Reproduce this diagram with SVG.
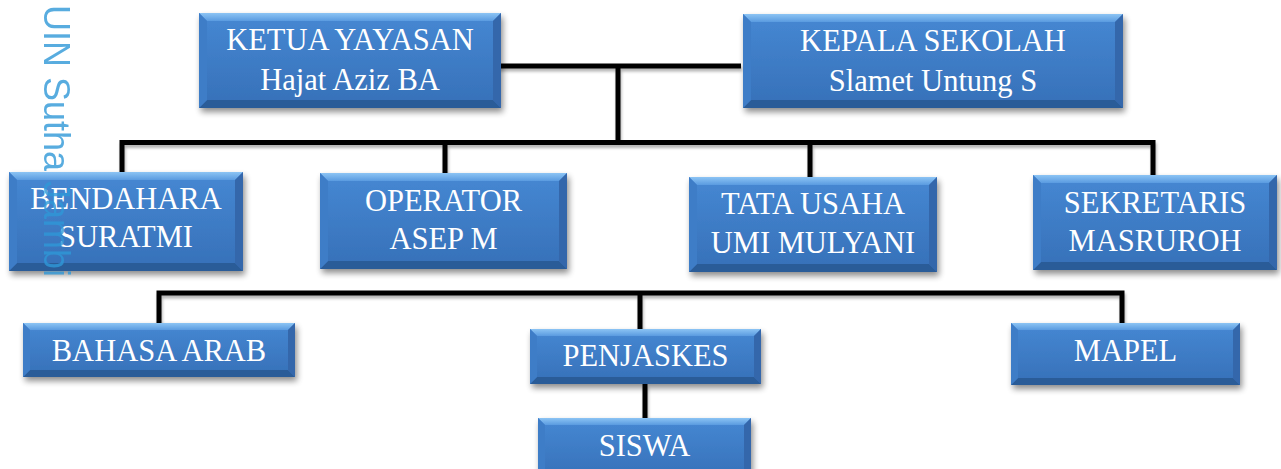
<svg xmlns="http://www.w3.org/2000/svg" width="1281" height="469" viewBox="0 0 1281 469">
<defs>
<linearGradient id="gFace" x1="0" y1="0" x2="0" y2="1">
<stop offset="0" stop-color="#4688d3"/>
<stop offset="1" stop-color="#3670b8"/>
</linearGradient>
<linearGradient id="gTop" x1="0" y1="0" x2="0" y2="1">
<stop offset="0" stop-color="#8cc4f4"/>
<stop offset="1" stop-color="#5a9be0"/>
</linearGradient>
<filter id="sh" x="-10%" y="-20%" width="125%" height="150%">
<feGaussianBlur in="SourceAlpha" stdDeviation="3"/>
<feOffset dx="2" dy="4" result="b"/>
<feComponentTransfer><feFuncA type="linear" slope="0.45"/></feComponentTransfer>
<feMerge><feMergeNode/><feMergeNode in="SourceGraphic"/></feMerge>
</filter>
<filter id="lsh" x="-5%" y="-50%" width="110%" height="200%">
<feGaussianBlur in="SourceAlpha" stdDeviation="1.5"/>
<feOffset dx="1" dy="3"/>
<feComponentTransfer><feFuncA type="linear" slope="0.3"/></feComponentTransfer>
<feMerge><feMergeNode/><feMergeNode in="SourceGraphic"/></feMerge>
</filter>
</defs>
<style>
.face{fill:url(#gFace);filter:url(#sh);}
.bt{fill:url(#gTop);}
.bb{fill:#2a5c98;}
.bl{fill:#3e7dc7;}
.br{fill:#3467ab;}
.lbl{font-family:"Liberation Serif","Times New Roman",serif;font-size:30.5px;fill:#ffffff;text-anchor:middle;}
.con{fill:none;stroke:#000000;stroke-width:5;stroke-linejoin:miter;stroke-linecap:butt;}
.wm{font-family:"Liberation Sans",Arial,sans-serif;font-size:36px;fill:#2f98d8;}
</style>
<rect width="1281" height="469" fill="#ffffff"/>

<g id="connectors" filter="url(#lsh)">
<path class="con" d="M498,66 H741"/>
<path class="con" d="M618,66 V142.5"/>
<path class="con" d="M122,173 V142.5 H1153 V175"/>
<path class="con" d="M445,142.5 V173"/>
<path class="con" d="M810,142.5 V177"/>
<path class="con" d="M159,323 V293 H1122 V323"/>
<path class="con" d="M640,293 V329"/>
<path class="con" d="M645,384 V418"/>
</g>

<g id="ketua">
<rect class="face" x="199" y="13" width="302" height="95"/>
<polygon class="bt" points="199,13 501,13 493,21 207,21"/>
<polygon class="bb" points="199,108 501,108 493,100 207,100"/>
<polygon class="bl" points="199,13 207,21 207,100 199,108"/>
<polygon class="br" points="501,13 493,21 493,100 501,108"/>
<text class="lbl" x="350" y="50">KETUA YAYASAN</text>
<text class="lbl" x="350" y="90">Hajat Aziz BA</text>
</g>

<g id="kepala">
<rect class="face" x="743" y="14" width="380" height="94"/>
<polygon class="bt" points="743,14 1123,14 1115,22 751,22"/>
<polygon class="bb" points="743,108 1123,108 1115,100 751,100"/>
<polygon class="bl" points="743,14 751,22 751,100 743,108"/>
<polygon class="br" points="1123,14 1115,22 1115,100 1123,108"/>
<text class="lbl" x="933" y="51">KEPALA SEKOLAH</text>
<text class="lbl" x="933" y="91">Slamet Untung S</text>
</g>

<g id="bendahara">
<rect class="face" x="9" y="172" width="234" height="99"/>
<polygon class="bt" points="9,172 243,172 235,180 17,180"/>
<polygon class="bb" points="9,271 243,271 235,263 17,263"/>
<polygon class="bl" points="9,172 17,180 17,263 9,271"/>
<polygon class="br" points="243,172 235,180 235,263 243,271"/>
<text class="lbl" x="126" y="209">BENDAHARA</text>
<text class="lbl" x="126" y="247">SURATMI</text>
</g>

<g id="operator">
<rect class="face" x="320" y="173" width="247" height="96"/>
<polygon class="bt" points="320,173 567,173 559,181 328,181"/>
<polygon class="bb" points="320,269 567,269 559,261 328,261"/>
<polygon class="bl" points="320,173 328,181 328,261 320,269"/>
<polygon class="br" points="567,173 559,181 559,261 567,269"/>
<text class="lbl" x="443.5" y="211">OPERATOR</text>
<text class="lbl" x="443.5" y="249">ASEP M</text>
</g>

<g id="tatausaha">
<rect class="face" x="689" y="177" width="248" height="95"/>
<polygon class="bt" points="689,177 937,177 929,185 697,185"/>
<polygon class="bb" points="689,272 937,272 929,264 697,264"/>
<polygon class="bl" points="689,177 697,185 697,264 689,272"/>
<polygon class="br" points="937,177 929,185 929,264 937,272"/>
<text class="lbl" x="813" y="214">TATA USAHA</text>
<text class="lbl" x="813" y="253">UMI MULYANI</text>
</g>

<g id="sekretaris">
<rect class="face" x="1033" y="175" width="244" height="95"/>
<polygon class="bt" points="1033,175 1277,175 1269,183 1041,183"/>
<polygon class="bb" points="1033,270 1277,270 1269,262 1041,262"/>
<polygon class="bl" points="1033,175 1041,183 1041,262 1033,270"/>
<polygon class="br" points="1277,175 1269,183 1269,262 1277,270"/>
<text class="lbl" x="1155" y="213">SEKRETARIS</text>
<text class="lbl" x="1155" y="251">MASRUROH</text>
</g>

<g id="bahasaarab">
<rect class="face" x="23" y="323" width="272" height="54"/>
<polygon class="bt" points="23,323 295,323 288,330 30,330"/>
<polygon class="bb" points="23,377 295,377 288,370 30,370"/>
<polygon class="bl" points="23,323 30,330 30,370 23,377"/>
<polygon class="br" points="295,323 288,330 288,370 295,377"/>
<text class="lbl" x="159" y="361">BAHASA ARAB</text>
</g>

<g id="penjaskes">
<rect class="face" x="530" y="329" width="231" height="55"/>
<polygon class="bt" points="530,329 761,329 754,336 537,336"/>
<polygon class="bb" points="530,384 761,384 754,377 537,377"/>
<polygon class="bl" points="530,329 537,336 537,377 530,384"/>
<polygon class="br" points="761,329 754,336 754,377 761,384"/>
<text class="lbl" x="645.5" y="366">PENJASKES</text>
</g>

<g id="mapel">
<rect class="face" x="1011" y="323" width="229" height="62"/>
<polygon class="bt" points="1011,323 1240,323 1233,330 1018,330"/>
<polygon class="bb" points="1011,385 1240,385 1233,378 1018,378"/>
<polygon class="bl" points="1011,323 1018,330 1018,378 1011,385"/>
<polygon class="br" points="1240,323 1233,330 1233,378 1240,385"/>
<text class="lbl" x="1125.5" y="361">MAPEL</text>
</g>

<g id="siswa">
<rect class="face" x="538" y="418" width="213" height="62"/>
<polygon class="bt" points="538,418 751,418 744,425 545,425"/>
<polygon class="bb" points="538,480 751,480 744,473 545,473"/>
<polygon class="bl" points="538,418 545,425 545,473 538,480"/>
<polygon class="br" points="751,418 744,425 744,473 751,480"/>
<text class="lbl" x="644.5" y="456">SISWA</text>
</g>

<g id="watermark" opacity="0.8">
<text class="wm" transform="translate(44,5) rotate(90)" x="0" y="0">UIN Sutha Jambi</text>
</g>
</svg>
